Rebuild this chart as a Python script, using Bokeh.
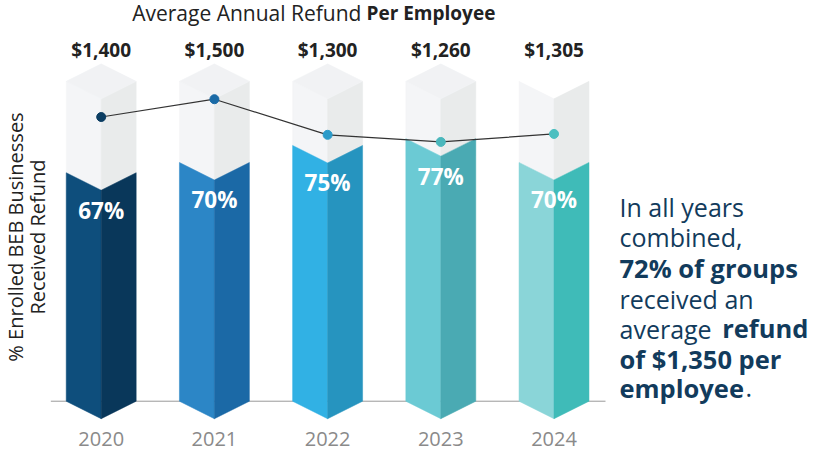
from bokeh.plotting import figure
from bokeh.models import Range1d, ColumnDataSource, Label
from bokeh.core.properties import value
from bokeh.embed import file_html
from bokeh.resources import INLINE

# ---- data -------------------------------------------------------------
years = ["2020", "2021", "2022", "2023", "2024"]
refund_per_employee = [1400, 1500, 1300, 1260, 1305]
pct_received = [67, 70, 75, 77, 70]

# ---- styling ----------------------------------------------------------
face_left = ["#0e4e7c", "#2c86c6", "#31b1e4", "#6bcad4", "#8ad5d8"]
face_right = ["#09375a", "#1b69a6", "#2694bf", "#4aaab3", "#3fbbb8"]
dot_colors = ["#0b3d62", "#1a6aa6", "#2b9bc9", "#4ab7bc", "#4cbfc0"]
grey_left = "#f4f5f7"
grey_right = "#e9ebeb"
grey_top = "#f1f2f4"
navy = "#123b5c"
FONT = "Open Sans"

W, H = 817, 452
COL_TOP = 93.8        # height (in % units) of the full column
HALF_W = 0.309        # half-width of a column, in category units
DIP = 5.13            # depth of the chevron cut, in % units
RAISE = 0.38          # baseline correction, as a fraction of font size

p = figure(width=W, height=H, output_backend="svg", toolbar_location=None,
           x_range=Range1d(-0.8896, 6.3277), y_range=Range1d(-15.04, 117.51),
           x_axis_type=None, y_axis_type=None, min_border=0,
           outline_line_color=None, background_fill_color="white",
           border_fill_color="white")
p.extra_y_ranges = {"refund": Range1d(-484.5, 2054.5)}

xc = list(range(len(years)))

# baseline under the columns
p.segment(x0=[xc[0] - 0.445], y0=[0], x1=[xc[-1] + 0.455], y1=[0],
          line_color="#9a9a9a", line_width=1)

# build the faces of every column
gl, gr, gt, cl, cr = ([], [], [], [], [])
for i, (c, v) in enumerate(zip(xc, pct_received)):
    L, R = c - HALF_W, c + HALF_W
    gl.append(([L, c, c, L], [COL_TOP, COL_TOP - DIP, v - DIP, v]))
    gr.append(([c, R, R, c], [COL_TOP - DIP, COL_TOP, v, v - DIP]))
    if i < len(xc) - 1:
        gt.append(([L, c, R, c], [COL_TOP, COL_TOP + DIP, COL_TOP, COL_TOP - DIP]))
    cl.append(([L, c, c, L], [v, v - DIP, -DIP, 0]))
    cr.append(([c, R, R, c], [v - DIP, v, 0, -DIP]))


def draw(faces, colors):
    src = ColumnDataSource(dict(xs=[f[0] for f in faces], ys=[f[1] for f in faces],
                                color=colors))
    p.patches("xs", "ys", source=src, fill_color="color", line_color="color",
              line_width=0.5)


draw(gl, [grey_left] * len(gl))
draw(gr, [grey_right] * len(gr))
draw(gt, [grey_top] * len(gt))
draw(cl, face_left)
draw(cr, face_right)

# refund line with dots
src_line = ColumnDataSource(dict(x=xc, y=refund_per_employee, color=dot_colors))
p.line("x", "y", source=src_line, y_range_name="refund", line_color="#333333",
       line_width=1.2)
p.scatter("x", "y", source=src_line, y_range_name="refund", size=9,
          fill_color="color", line_color="color")

# value labels
src_lab = ColumnDataSource(dict(
    x=xc, pct=pct_received, top=[COL_TOP] * len(xc), zero=[0] * len(xc),
    pct_txt=[f"{v}%" for v in pct_received],
    ref_txt=[f"${v:,}" for v in refund_per_employee],
    year=years))


def col_text(y, field, offset, size, color, bold=False):
    p.text("x", y, text=field, source=src_lab, y_offset=offset - RAISE * size,
           text_align="center", text_baseline="alphabetic", text_color=color,
           text_font=value(FONT), text_font_style="bold" if bold else "normal",
           text_font_size=f"{size}px")


col_text("pct", "pct_txt", 46, 22.5, "white", bold=True)
col_text("top", "ref_txt", -24.5, 19, "#222222", bold=True)
col_text("zero", "year", 45, 20, "#8a8a8a")


def label(x, base, text, size, bold=False, color="#222222", vertical=False,
          align="left"):
    shift = RAISE * size
    if vertical:
        lx, ly, ang = x - shift, H - base, 1.5708
    else:
        lx, ly, ang = x, H - base + shift, 0
    p.add_layout(Label(x=lx, y=ly, x_units="screen", y_units="screen",
                       text=text, text_font=FONT, text_font_size=f"{size}px",
                       text_font_style="bold" if bold else "normal",
                       text_color=color, angle=ang, text_align=align,
                       text_baseline="alphabetic"))


# chart title
label(131.7, 20, "Average Annual Refund", 21)
label(366, 20, "Per Employee", 19, bold=True)

# vertical axis title
label(23, 236.5, "% Enrolled BEB Businesses", 20, vertical=True, align="center")
label(45, 236.5, "Received Refund", 20, vertical=True, align="center")

# summary note on the right
note = [
    (215.7, [("In all years", False)]),
    (246.0, [("combined,", False)]),
    (276.7, [("72% of groups", True)]),
    (308.0, [("received an", False)]),
    (337.5, [("average", False), ("refund", True)]),
    (367.7, [("of $1,350 per", True)]),
    (396.7, [("employee", True), (".", False)]),
]
seg_x = {"refund": 721.7, ".": 745.0}
for base, parts in note:
    for txt, bold in parts:
        label(seg_x.get(txt, 619), base, txt, 25.5 if bold else 25, bold=bold,
              color=navy)

open("out.html", "w").write(file_html(p, INLINE))
